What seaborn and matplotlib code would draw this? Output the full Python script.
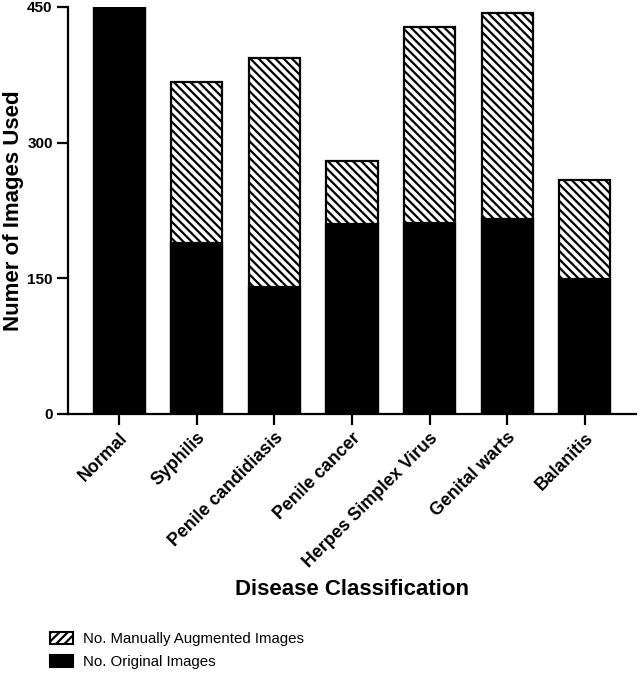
import matplotlib
matplotlib.use('Agg')
import matplotlib.pyplot as plt
import seaborn as sns
import pandas as pd
from matplotlib.patches import Patch

categories = ["Normal", "Syphilis", "Penile candidiasis", "Penile cancer",
              "Herpes Simplex Virus", "Genital warts", "Balanitis"]
original_images = [450, 189, 140, 210, 211, 216, 149]
augmented_images = [0, 178, 254, 70, 217, 227, 110]
y_ticks = [0, 150, 300, 450]
legend_labels = ["No. Manually Augmented Images", "No. Original Images"]

sns.set_theme(style='white', rc={'text.color': 'black', 'axes.labelcolor': 'black',
                                 'xtick.color': 'black', 'ytick.color': 'black',
                                 'axes.edgecolor': 'black'})
plt.rcParams['font.family'] = ['Liberation Sans', 'DejaVu Sans']
plt.rcParams['hatch.linewidth'] = 1.6
plt.rcParams['hatch.color'] = 'black'

df = pd.DataFrame({'Disease': categories,
                   'Original': original_images,
                   'Augmented': augmented_images})
df['Total'] = df['Original'] + df['Augmented']

fig = plt.figure(figsize=(6.4, 6.81), dpi=100)
ax = fig.add_axes([68/640, 1 - 414/681, 568/640, 407/681])

sns.barplot(data=df, x='Disease', y='Total', color='white', edgecolor='black',
            linewidth=1.6, width=0.66, hatch='\\\\\\\\', errorbar=None,
            saturation=1, ax=ax)
sns.barplot(data=df, x='Disease', y='Original', color='black', edgecolor='black',
            linewidth=1.6, width=0.66, errorbar=None, saturation=1, ax=ax)

ax.set_xlim(-0.66, 6.66)
ax.set_ylim(0, 450)
ax.set_yticks(y_ticks)
ax.set_yticklabels([str(v) for v in y_ticks], fontweight='bold', fontsize=11)
ax.set_xticks(range(len(categories)))
ax.set_xticklabels(categories, rotation=45, ha='right', rotation_mode='anchor',
                   fontweight='bold', fontsize=12.8)

for s in ['top', 'right']:
    ax.spines[s].set_visible(False)
for s in ['left', 'bottom']:
    ax.spines[s].set_linewidth(1.6)
    ax.spines[s].set_color('black')
ax.tick_params(axis='both', direction='out', length=8, width=1.6, color='black',
               labelcolor='black', pad=3, left=True, bottom=True)

ax.set_ylabel('Numer of Images Used', fontsize=16, fontweight='bold', color='black')
ax.set_xlabel('Disease Classification', fontsize=16, fontweight='bold', color='black')
ax.yaxis.set_label_coords(-0.077, 0.5)
ax.xaxis.set_label_coords(0.5, -0.405)
ax.xaxis.label.set_va('top')

handles = [Patch(facecolor='white', edgecolor='black', hatch='////', linewidth=1.5),
           Patch(facecolor='black', edgecolor='black', linewidth=1.5)]
fig.legend(handles=handles, labels=legend_labels, loc='upper left',
           bbox_to_anchor=(50/640, 1 - 632/681), frameon=False,
           borderpad=0, borderaxespad=0, fontsize=10.8,
           handlelength=1.53, handleheight=0.8, handletextpad=0.67,
           labelspacing=0.6)

fig.savefig('out.png', dpi=100)
